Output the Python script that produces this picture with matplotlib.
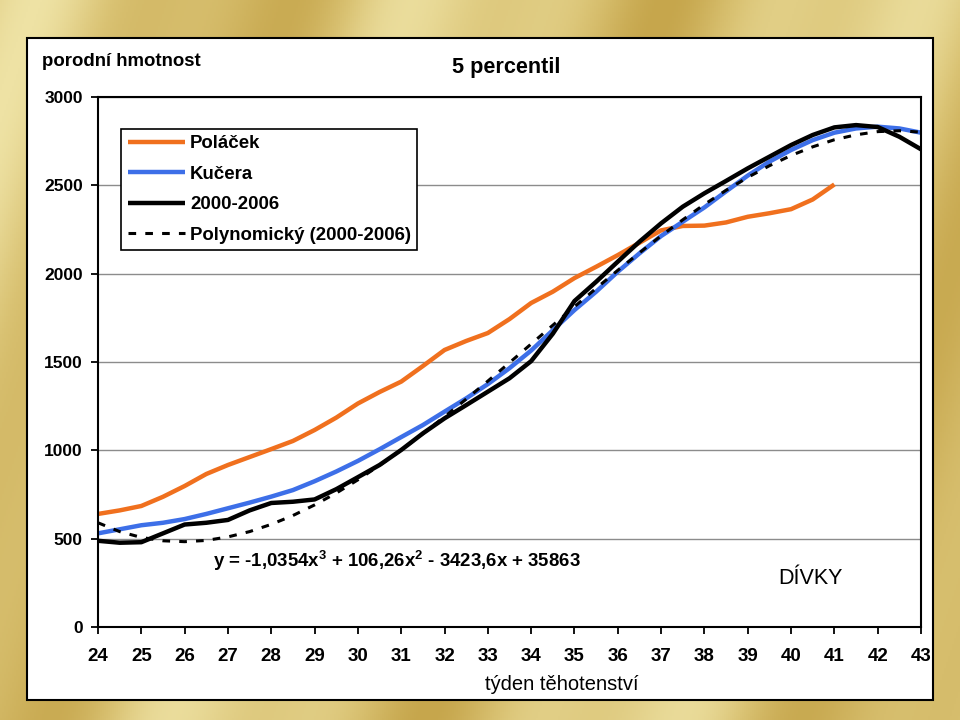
import numpy as np
import matplotlib
matplotlib.use('Agg')
import matplotlib.pyplot as plt
from matplotlib.colors import LinearSegmentedColormap
from matplotlib.patches import Rectangle

plt.rcParams['font.family'] = ['Liberation Sans', 'DejaVu Sans']
plt.rcParams['mathtext.default'] = 'regular'

# tyden tehotenstvi (po pul tydnu)
tydny = np.arange(24, 43.5, 0.5)

# Polacek - konci ve 41. tydnu
polacek = [640, 660, 685, 737, 798, 866, 917, 962, 1007, 1053, 1115, 1185, 1265, 1330,
           1389, 1477, 1568, 1619, 1664, 1743, 1834, 1898, 1975, 2039, 2105, 2175, 2245,
           2270, 2272, 2290, 2322, 2342, 2365, 2420, 2505]

kucera = [530, 553, 576, 590, 611, 640, 672, 704, 738, 775, 825, 880, 940, 1006, 1075,
          1143, 1219, 1294, 1375, 1465, 1565, 1680, 1794, 1898, 2011, 2115, 2213, 2294,
          2375, 2466, 2555, 2634, 2700, 2756, 2798, 2822, 2832, 2822, 2798]

data_2000_2006 = [488, 477, 480, 530, 580, 590, 606, 660, 702, 709, 722, 780, 848, 917,
                  1002, 1096, 1181, 1256, 1332, 1408, 1505, 1660, 1845, 1954, 2068, 2181,
                  2285, 2379, 2455, 2525, 2596, 2662, 2728, 2785, 2828, 2841, 2830, 2775, 2704]

# trend (polynom 3. stupne)
polynom = [590, 540, 507, 488, 483, 490, 510, 540, 581, 631, 691, 758, 833, 915, 1002,
           1094, 1190, 1290, 1392, 1496, 1602, 1708, 1813, 1917, 2019, 2118, 2214, 2305,
           2392, 2472, 2545, 2611, 2669, 2718, 2758, 2786, 2804, 2809, 2801]

x_ticks = list(range(24, 44))
y_ticks = [0, 500, 1000, 1500, 2000, 2500, 3000]

fig = plt.figure(figsize=(9.6, 7.2), dpi=100)

# zlate pozadi
bg = fig.add_axes([0, 0, 1, 1])
bg.axis('off')
yy, xx = np.mgrid[0:1:360j, 0:1:480j]
t = xx + 0.25 * yy
vzor = 0.5 + 0.3 * np.sin(2 * np.pi * t * 2.3 + 1.0) + 0.15 * np.sin(2 * np.pi * t * 5.3 + 0.4)
gold = LinearSegmentedColormap.from_list('gold', ['#C6A64C', '#DAC374', '#EEE2A4'])
bg.imshow(vzor, cmap=gold, aspect='auto', extent=[0, 1, 0, 1], origin='upper')
bg.set_xlim(0, 1)
bg.set_ylim(0, 1)
bg.add_patch(Rectangle((27 / 960, 20 / 720), 906 / 960, 662 / 720, facecolor='white',
                       edgecolor='black', linewidth=1.5))

ax = fig.add_axes([98 / 960, 93 / 720, 823 / 960, 530 / 720])
ax.set_facecolor('white')

ax.plot(tydny[:len(polacek)], polacek, color='#F0701E', lw=3.2, label='Poláček', solid_capstyle='butt')
ax.plot(tydny, kucera, color='#3D6FE8', lw=3.2, label='Kučera', solid_capstyle='butt')
ax.plot(tydny, data_2000_2006, color='black', lw=3.2, label='2000-2006', solid_capstyle='butt')
ax.plot(tydny, polynom, color='black', lw=2.2, dashes=(2.5, 3), label='Polynomický (2000-2006)')

ax.set_xlim(24, 43)
ax.set_ylim(0, 3000)
ax.set_xticks(x_ticks)
ax.set_yticks(y_ticks)
ax.grid(axis='y', color='#8C8C8C', lw=1)
ax.set_axisbelow(True)
for s in ax.spines.values():
    s.set_linewidth(1.5)
    s.set_color('black')
ax.tick_params(axis='x', direction='out', length=5, width=1.3, labelsize=13.5, pad=10)
ax.tick_params(axis='y', direction='out', length=5, width=1.3, labelsize=12.5, pad=6)
for lab in ax.get_xticklabels() + ax.get_yticklabels():
    lab.set_fontweight('bold')

leg = ax.legend(loc='upper left', bbox_to_anchor=(0.028, 0.94), borderaxespad=0,
                frameon=True, fancybox=False, edgecolor='black', framealpha=1,
                prop={'size': 13.4, 'weight': 'bold'}, handlelength=3.1,
                handletextpad=0.25, labelspacing=0.72, borderpad=0.35)
leg.get_frame().set_linewidth(1.2)

ax.text(26.66, 374, r'y = -1,0354x$^{3}$ + 106,26x$^{2}$ - 3423,6x + 35863',
        fontsize=13.4, fontweight='bold', ha='left', va='center')
ax.text(39.7, 272, 'DÍVKY', fontsize=15.5, ha='left', va='center')

fig.text(42 / 960, 1 - 62 / 720, 'porodní hmotnost', fontsize=13.4, fontweight='bold',
         ha='left', va='center')
fig.text(506 / 960, 1 - 67 / 720, '5 percentil', fontsize=15.6, fontweight='bold',
         ha='center', va='center')
fig.text(562 / 960, 1 - 684 / 720, 'týden těhotenství', fontsize=14.5, ha='center', va='center')

fig.savefig('out.png', dpi=100)
